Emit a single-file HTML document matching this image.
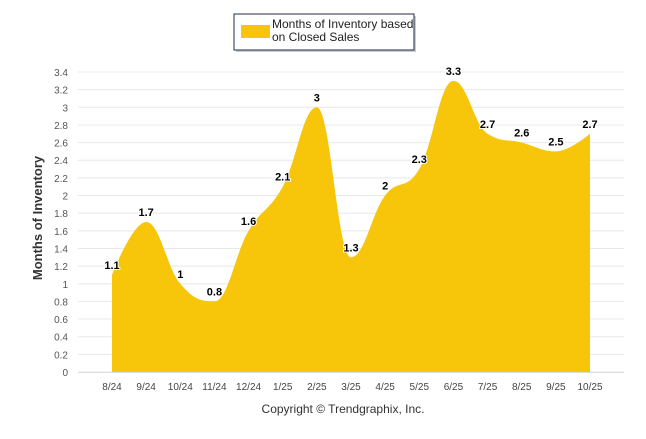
<!DOCTYPE html>
<html><head><meta charset="utf-8"><style>
body{margin:0;background:#fff;font-family:"Liberation Sans",sans-serif;}
svg text{font-family:"Liberation Sans",sans-serif;}
</style></head><body>
<svg width="646" height="434" viewBox="0 0 646 434">
<g>
<rect x="236" y="16" width="180" height="36" fill="#999" opacity="0.5"/>
<rect x="234" y="14" width="180" height="36" fill="#fff" stroke="#1c2b4a" stroke-width="1"/>
<rect x="241" y="25" width="29" height="13" fill="#f7c509"/>
<text x="272" y="28" font-size="12" fill="#222">Months of Inventory based</text>
<text x="272" y="41" font-size="12" fill="#222">on Closed Sales</text>
</g>
<g id="grid"></g>
<path id="area" fill="#f7c509"/>
<g id="labels"></g>
<g id="xt"></g>
<text transform="translate(42,218) rotate(-90)" text-anchor="middle" font-size="13" font-weight="bold" fill="#333">Months of Inventory</text>
<text x="343" y="413" text-anchor="middle" font-size="12" fill="#333">Copyright © Trendgraphix, Inc.</text>
</svg>
<script>
const categories=["8/24","9/24","10/24","11/24","12/24","1/25","2/25","3/25","4/25","5/25","6/25","7/25","8/25","9/25","10/25"];
const values=[1.1,1.7,1,0.8,1.6,2.1,3,1.3,2,2.3,3.3,2.7,2.6,2.5,2.7];
const yTicks=[0,0.2,0.4,0.6,0.8,1,1.2,1.4,1.6,1.8,2,2.2,2.4,2.6,2.8,3,3.2,3.4];
const NS="http://www.w3.org/2000/svg";
const x0=112,x1=590,y0=372,y1=72,pl=78,pr=624;
const X=i=>x0+i*(x1-x0)/(categories.length-1);
const Y=v=>y0-v/3.4*(y0-y1);
function mk(t,a,p){const e=document.createElementNS(NS,t);for(const k in a)e.setAttribute(k,a[k]);p.appendChild(e);return e;}
const g=document.getElementById('grid');
yTicks.forEach(v=>{
 const l=mk('line',{x1:pl,x2:pr,y1:Y(v),y2:Y(v),stroke:'#e8e8e8'},g);
 
 
 const t=mk('text',{x:68,y:Y(v)+4,'text-anchor':'end','font-size':'10',fill:'#555'},g);
 t.textContent=String(v);
 
 
});
const xt=document.getElementById('xt');
mk('line',{x1:pl,x2:pr,y1:y0+0.5,y2:y0+0.5,stroke:'#ddd'},xt);
categories.forEach((c,i)=>{
 const t=mk('text',{x:X(i),y:390,'text-anchor':'middle','font-size':'10',fill:'#444'},xt);
 t.textContent=c;
 
 
});
// Highcharts-like spline
const pts=values.map((v,i)=>[X(i),Y(v)]);
let d=`M${pts[0][0]},${pts[0][1]}`;
const sm=1.5,den=sm+1;
function ctrl(i){
 const p=pts[i],a=pts[i-1],b=pts[i+1];
 let lx=(sm*p[0]+a[0])/den,ly=(sm*p[1]+a[1])/den,rx=(sm*p[0]+b[0])/den,ry=(sm*p[1]+b[1])/den;
 let corr=0; if(rx!==lx) corr=((ry-ly)*(rx-p[0]))/(rx-lx)+p[1]-ry;
 ly+=corr;ry+=corr;
 if(ly>a[1]&&ly>p[1]){ly=Math.max(a[1],p[1]);ry=2*p[1]-ly;}else if(ly<a[1]&&ly<p[1]){ly=Math.min(a[1],p[1]);ry=2*p[1]-ly;}
 if(ry>b[1]&&ry>p[1]){ry=Math.max(b[1],p[1]);ly=2*p[1]-ry;}else if(ry<b[1]&&ry<p[1]){ry=Math.min(b[1],p[1]);ly=2*p[1]-ry;}
 return {l:[lx,ly],r:[rx,ry]};
}
const cs=pts.map((p,i)=>(i>0&&i<pts.length-1)?ctrl(i):{l:p,r:p});
for(let i=1;i<pts.length;i++){
 const c1=cs[i-1].r,c2=cs[i].l,p=pts[i];
 d+=` C${c1[0]},${c1[1]} ${c2[0]},${c2[1]} ${p[0]},${p[1]}`;
}
d+=` L${x1},${y0} L${x0},${y0} Z`;
document.getElementById('area').setAttribute('d',d);
const lb=document.getElementById('labels');
values.forEach((v,i)=>{
 const t=mk('text',{x:X(i),y:Y(v)-6,'text-anchor':'middle','font-size':'11','font-weight':'bold',fill:'#000',stroke:'#fff','stroke-width':'2','paint-order':'stroke'},lb);
 t.textContent=String(v);
 
 
});
</script>
</body></html>
